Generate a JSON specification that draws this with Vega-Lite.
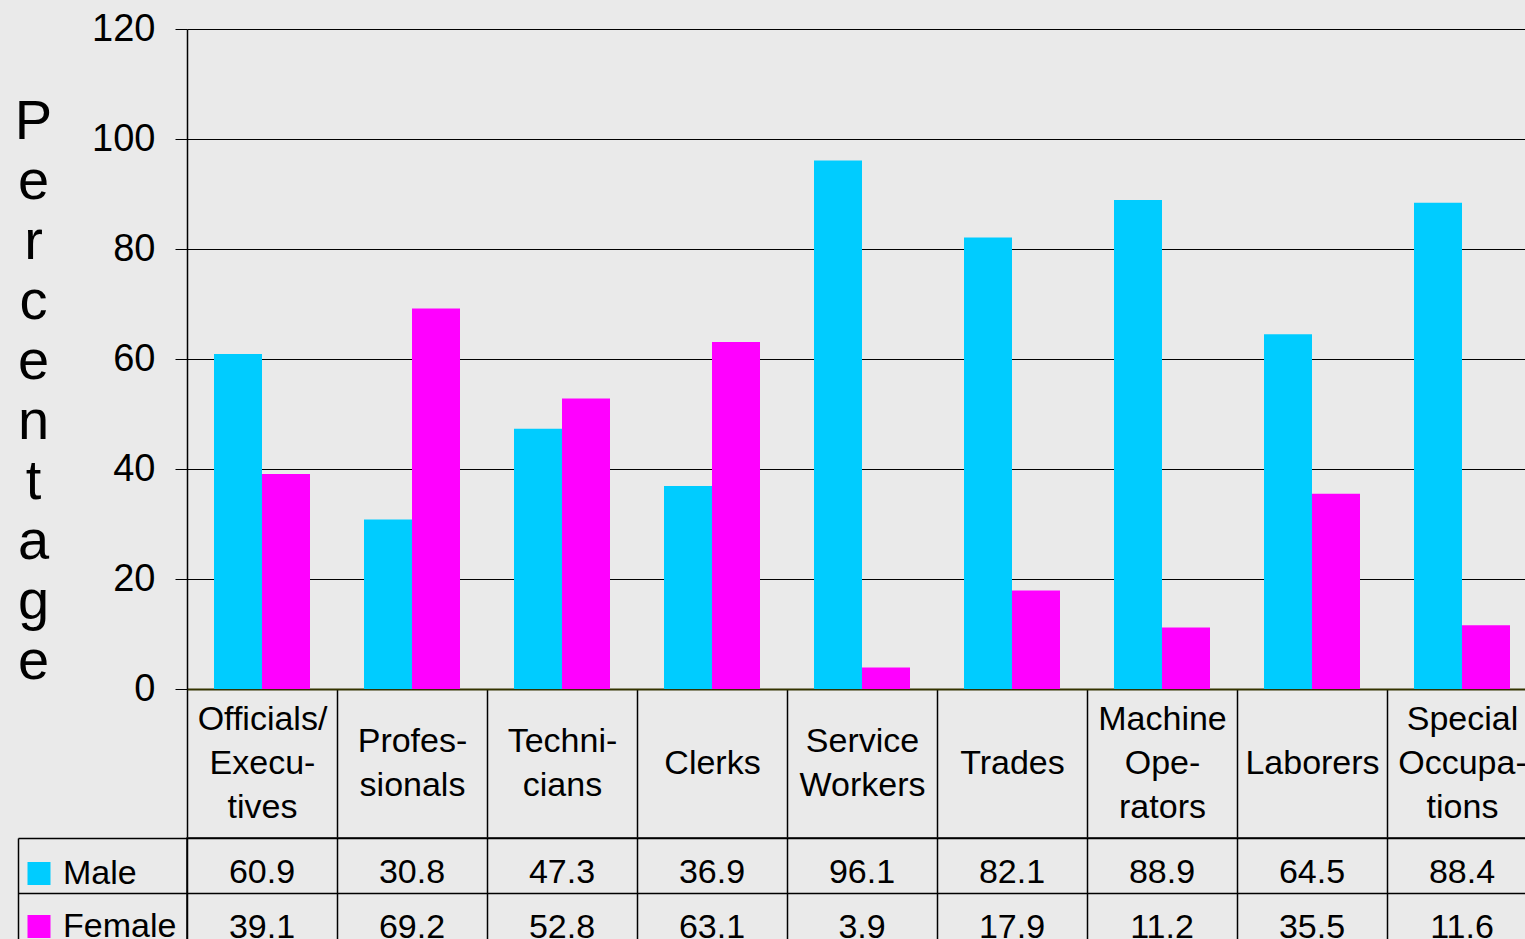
{
  "$schema": "https://vega.github.io/schema/vega-lite/v6.json",
  "background": "#EAEAEA",
  "padding": {"left": 14, "top": 10, "right": 0, "bottom": 0},
  "config": {
    "font": "Liberation Sans",
    "view": {"stroke": null},
    "axis": {"labelFont": "Liberation Sans", "titleFont": "Liberation Sans"},
    "legend": {"labelFont": "Liberation Sans"}
  },
  "datasets": {
    "d": [
      {"category": "Officials/Executives", "sex": "Male", "value": 60.9},
      {"category": "Officials/Executives", "sex": "Female", "value": 39.1},
      {"category": "Professionals", "sex": "Male", "value": 30.8},
      {"category": "Professionals", "sex": "Female", "value": 69.2},
      {"category": "Technicians", "sex": "Male", "value": 47.3},
      {"category": "Technicians", "sex": "Female", "value": 52.8},
      {"category": "Clerks", "sex": "Male", "value": 36.9},
      {"category": "Clerks", "sex": "Female", "value": 63.1},
      {"category": "Service Workers", "sex": "Male", "value": 96.1},
      {"category": "Service Workers", "sex": "Female", "value": 3.9},
      {"category": "Trades", "sex": "Male", "value": 82.1},
      {"category": "Trades", "sex": "Female", "value": 17.9},
      {"category": "Machine Operators", "sex": "Male", "value": 88.9},
      {"category": "Machine Operators", "sex": "Female", "value": 11.2},
      {"category": "Laborers", "sex": "Male", "value": 64.5},
      {"category": "Laborers", "sex": "Female", "value": 35.5},
      {"category": "Special Occupations", "sex": "Male", "value": 88.4},
      {"category": "Special Occupations", "sex": "Female", "value": 11.6}
    ]
  },
  "spacing": -3,
  "resolve": {"scale": {"color": "independent"}, "legend": {"color": "independent"}},
  "vconcat": [
    {
      "width": 1350,
      "height": 660,
      "data": {"name": "d"},
      "mark": {"type": "bar"},
      "encoding": {
        "x": {
          "field": "category", "type": "nominal", "sort": null,
          "scale": {"paddingInner": 0, "paddingOuter": 0},
          "axis": {
            "title": null,
            "labelExpr": "{'Officials/Executives': ['Officials/', '\u200b', 'Execu-', '\u200b', 'tives'], 'Professionals': ['\u200b', 'Profes-', '\u200b', 'sionals'], 'Technicians': ['\u200b', 'Techni-', '\u200b', 'cians'], 'Clerks': ['\u200b', '\u200b', 'Clerks'], 'Service Workers': ['\u200b', 'Service', '\u200b', 'Workers'], 'Trades': ['\u200b', '\u200b', 'Trades'], 'Machine Operators': ['Machine', '\u200b', 'Ope-', '\u200b', 'rators'], 'Laborers': ['\u200b', '\u200b', 'Laborers'], 'Special Occupations': ['Special', '\u200b', 'Occupa-', '\u200b', 'tions']}[datum.label]",
            "labelFontSize": 34,
            "labelLineHeight": 22,
            "labelBaseline": "middle",
            "labelPadding": -118,
            "labelColor": "black",
            "labelAngle": 0,
            "labelLimit": 0,
            "labelOverlap": false,
            "labelBound": false,
            "labelFlush": false,
            "ticks": true,
            "tickBand": "extent",
            "tickSize": 148,
            "tickColor": "black",
            "tickWidth": 1.5,
            "domainColor": "#333300",
            "domainWidth": 2,
            "grid": false
          }
        },
        "xOffset": {
          "field": "sex", "type": "nominal", "sort": ["Male", "Female"],
          "scale": {"paddingInner": 0, "paddingOuter": 0.5625}
        },
        "y": {
          "field": "value", "type": "quantitative",
          "scale": {"domain": [0, 120], "nice": false},
          "axis": {
            "title": ["P", "e", "r", "c", "e", "n", "t", "a", "g", "e"],
            "titleAngle": 0,
            "titleX": -154,
            "titleY": 109,
            "titleAlign": "center",
            "titleBaseline": "alphabetic",
            "titleFontSize": 56,
            "titleFontWeight": "normal",
            "titleLineHeight": 60,
            "titleColor": "black",
            "values": [0, 20, 40, 60, 80, 100, 120],
            "labelFontSize": 38,
            "labelColor": "black",
            "labelPadding": 20,
            "tickSize": 12,
            "tickColor": "black",
            "tickWidth": 1,
            "domainColor": "black",
            "domainWidth": 1.5,
            "grid": true,
            "gridColor": "black",
            "gridWidth": 1,
            "gridOpacity": 1
          }
        },
        "color": {
          "field": "sex", "type": "nominal", "sort": ["Male", "Female"],
          "scale": {"domain": ["Male", "Female"], "range": ["#00CCFF", "#FF00FF"]},
          "legend": null
        }
      }
    },
    {
      "width": 1350,
      "height": 110,
      "data": {"name": "d"},
      "view": {"stroke": "black", "strokeWidth": 1.5},
      "encoding": {
        "x": {
          "field": "category", "type": "nominal", "sort": null,
          "scale": {"paddingInner": 0, "paddingOuter": 0},
          "axis": {
            "title": null, "labels": false, "ticks": false, "domain": false,
            "grid": true, "tickBand": "extent",
            "gridColor": "black", "gridWidth": 1.5, "gridOpacity": 1
          }
        },
        "y": {
          "field": "sex", "type": "nominal", "sort": ["Male", "Female"],
          "scale": {"paddingInner": 0, "paddingOuter": 0},
          "axis": {
            "title": null, "labels": false, "offset": 169,
            "tickBand": "extent", "tickSize": -169, "tickColor": "black", "tickWidth": 1.5,
            "domainColor": "black", "domainWidth": 1.5,
            "grid": true, "gridColor": "black", "gridWidth": 1.5, "gridOpacity": 1
          }
        }
      },
      "layer": [
        {
          "mark": {"type": "text", "fontSize": 34, "font": "Liberation Sans", "baseline": "alphabetic", "dy": 17, "color": "black"},
          "encoding": {"text": {"field": "value", "type": "quantitative", "format": ".1f"}}
        },
        {
          "mark": {"type": "point", "shape": "square", "filled": true, "opacity": 0},
          "encoding": {
            "color": {
              "field": "sex", "type": "nominal", "sort": ["Male", "Female"],
              "scale": {"domain": ["Male", "Female"], "range": ["#00CCFF", "#FF00FF"]},
              "legend": {
                "title": null, "orient": "none", "legendX": -165, "legendY": 18.5,
                "direction": "vertical", "symbolType": "square", "symbolSize": 529,
                "symbolStrokeWidth": 0, "symbolOpacity": 1,
                "labelFontSize": 34, "labelColor": "black", "rowPadding": 19, "labelOffset": 7
              }
            }
          }
        }
      ]
    }
  ]
}
